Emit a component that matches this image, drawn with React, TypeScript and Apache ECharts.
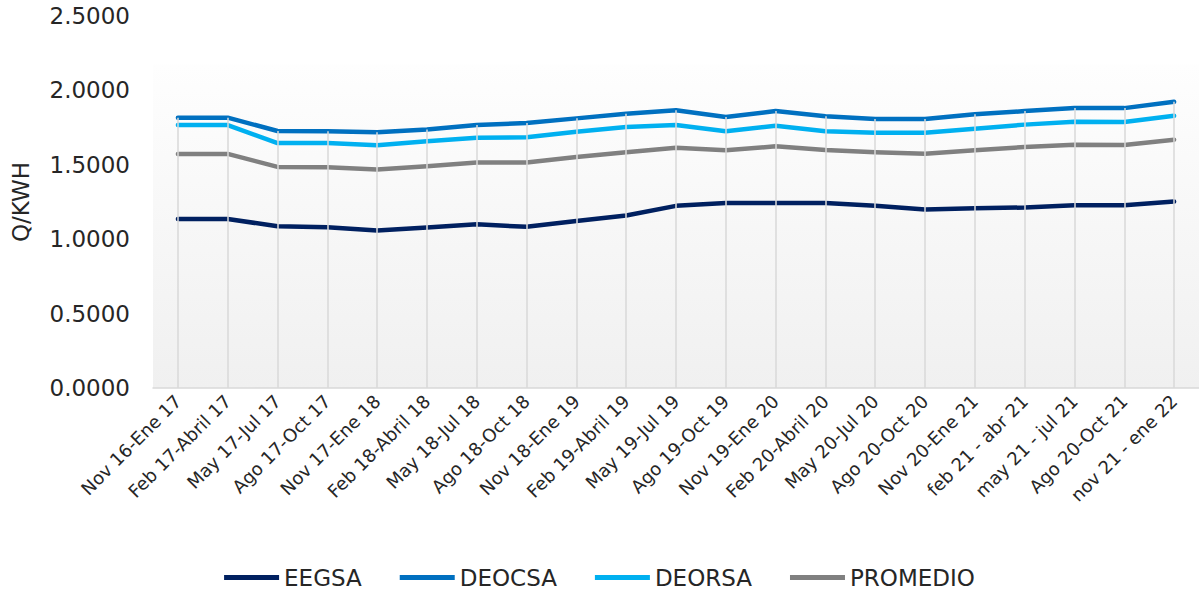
import React, { useEffect, useRef } from "react";
import * as echarts from "echarts";

const categories = [
  "Nov 16-Ene 17", "Feb 17-Abril 17", "May 17-Jul 17", "Ago 17-Oct 17", "Nov 17-Ene 18",
  "Feb 18-Abril 18", "May 18-Jul 18", "Ago 18-Oct 18", "Nov 18-Ene 19", "Feb 19-Abril 19",
  "May 19-Jul 19", "Ago 19-Oct 19", "Nov 19-Ene 20", "Feb 20-Abril 20", "May 20-Jul 20",
  "Ago 20-Oct 20", "Nov 20-Ene 21", "feb 21 - abr 21", "may 21 - jul 21", "Ago 20-Oct 21",
  "nov 21 - ene 22",
];

const eegsa = [1.136, 1.136, 1.087, 1.081, 1.058, 1.078, 1.100, 1.083, 1.123, 1.159, 1.224, 1.244, 1.244, 1.244, 1.224, 1.199, 1.208, 1.213, 1.228, 1.228, 1.253];
const deocsa = [1.817, 1.817, 1.727, 1.725, 1.718, 1.738, 1.767, 1.781, 1.812, 1.843, 1.866, 1.821, 1.861, 1.826, 1.808, 1.808, 1.839, 1.861, 1.881, 1.881, 1.924];
const deorsa = [1.767, 1.767, 1.646, 1.646, 1.631, 1.658, 1.682, 1.685, 1.722, 1.754, 1.767, 1.725, 1.763, 1.725, 1.716, 1.716, 1.742, 1.770, 1.790, 1.788, 1.830];
const promedio = [1.573, 1.573, 1.486, 1.484, 1.468, 1.490, 1.515, 1.515, 1.552, 1.584, 1.615, 1.597, 1.624, 1.600, 1.584, 1.575, 1.597, 1.620, 1.635, 1.633, 1.669];

const seriesNames = ["EEGSA", "DEOCSA", "DEORSA", "PROMEDIO"];
const seriesColors = ["#002060", "#0070C0", "#00B0F0", "#808080"];

const FONT = "DejaVu Sans";

export default function App() {
  const ref = useRef<HTMLDivElement>(null);

  useEffect(() => {
    document.body.style.margin = "0";
    if (!ref.current) return;
    const chart = echarts.init(ref.current, null, { renderer: "svg" });
    const allSeries = [eegsa, deocsa, deorsa, promedio];
    const dropLines = categories.map((c, i) => [
      { xAxis: c, yAxis: 0 },
      { xAxis: c, yAxis: Math.max(...allSeries.map((s) => s[i])) },
    ]);

    chart.setOption({
      animation: false,
      textStyle: { fontFamily: FONT },
      grid: {
        left: 153,
        right: 0,
        top: 16,
        bottom: 208,
        show: true,
        borderWidth: 0,
        backgroundColor: new echarts.graphic.LinearGradient(0, 0, 0, 1, [
          { offset: 0, color: "#ffffff" },
          { offset: 0.13, color: "#ffffff" },
          { offset: 0.131, color: "#fefefe" },
          { offset: 1, color: "#f0f0f0" },
        ]),
      },
      legend: {
        bottom: 2,
        left: "center",
        data: seriesNames,
        icon: "rect",
        itemWidth: 55,
        itemHeight: 5,
        itemGap: 38,
        textStyle: { fontSize: 23, color: "#262626", fontFamily: FONT },
      },
      xAxis: {
        type: "category",
        data: categories,
        boundaryGap: true,
        axisLine: { lineStyle: { color: "#d9d9d9", width: 1.5 } },
        axisTick: { show: false },
        splitLine: { show: false },
        axisLabel: {
          rotate: 45,
          fontSize: 18,
          color: "#262626",
          margin: 10,
          interval: 0,
          fontFamily: FONT,
        },
      },
      yAxis: {
        type: "value",
        min: 0,
        max: 2.5,
        interval: 0.5,
        name: "Q/KWH",
        nameLocation: "middle",
        nameGap: 121,
        nameTextStyle: { fontSize: 23, color: "#262626", fontFamily: FONT },
        axisLine: { show: false },
        axisTick: { show: false },
        splitLine: { show: false },
        axisLabel: {
          fontSize: 23,
          color: "#262626",
          margin: 23,
          fontFamily: FONT,
          formatter: (v: number) => v.toFixed(4),
        },
      },
      series: [
        {
          name: "__drop",
          type: "line",
          data: [],
          z: 1,
          silent: true,
          markLine: {
            silent: true,
            symbol: ["none", "none"],
            label: { show: false },
            lineStyle: { color: "#d9d9d9", width: 1.5, type: "solid" },
            data: dropLines,
          },
        },
        ...[eegsa, deocsa, deorsa, promedio].map((d, i) => ({
          name: seriesNames[i],
          type: "line",
          data: d,
          z: 3,
          symbol: "none",
          showSymbol: false,
          color: seriesColors[i],
          lineStyle: { color: seriesColors[i], width: 4.5, cap: "round", join: "round" },
        })),
      ],
    });
    return () => chart.dispose();
  }, []);

  return <div ref={ref} style={{ width: 1199, height: 596 }} />;
}
